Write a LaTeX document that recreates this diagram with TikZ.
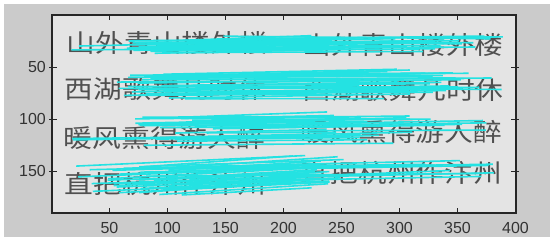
\documentclass[tikz,border=0pt]{standalone}
\usepackage{fontspec}
\setmainfont{Liberation Sans}
\newfontfamily\cjk{Noto Sans CJK SC}
\definecolor{figbg}{RGB}{203,203,203}
\definecolor{imgbg}{RGB}{228,228,228}
\definecolor{matchc}{RGB}{36,226,226}
\definecolor{inkc}{RGB}{80,80,80}
% n, xL from, xL to, yL from, yL to, xR from, xR to, vertical shift
\newcommand\mybundle[8]{%
  \foreach \k in {1,...,#1}{%
    \pgfmathsetmacro\xa{#2+rnd*(#3-#2)}%
    \pgfmathsetmacro\ya{#4+rnd*(#5-#4)}%
    \pgfmathsetmacro\xb{#6+rnd*(#7-#6)}%
    \pgfmathsetmacro\yb{\ya+#8+3*rand}%
    \draw[matchline] (\xa,\ya) -- (\xb,\yb);
  }}
\begin{document}
\begin{tikzpicture}[x=1pt,y=-1pt,
  matchline/.style={draw=matchc,line width=1.6pt},
  poem/.style={font=\cjk\fontsize{25}{25}\selectfont,text=inkc,inner sep=0pt,xscale=1.15,anchor=center},
  ticklab/.style={font=\fontsize{16}{16}\selectfont,text=black!80,inner sep=0pt},
  axisline/.style={draw=black!85,line width=1.3pt},
  tickline/.style={draw=black!85,line width=0.9pt}]
\useasboundingbox (0,0) rectangle (550,243);
\fill[white] (0,0) rectangle (550,243);
\fill[figbg] (4,4) rectangle (550,237);
\fill[imgbg] (52,15) rectangle (516,213);
% poem text, left image
\node[poem] (l1) at (167.5,43) {山外青山楼外楼};
\node[poem] (l2) at (165.5,89) {西湖歌舞几时休};
\node[poem] (l3) at (164.5,137.5) {暖风熏得游人醉};
\node[poem] (l4) at (165.5,184) {直把杭州作汴州};
% poem text, right image
\node[poem] (r1) at (403,45) {山外青山楼外楼};
\node[poem] (r2) at (403,90) {西湖歌舞几时休};
\node[poem] (r3) at (401.5,132) {暖风熏得游人醉};
\node[poem] (r4) at (401.5,172.5) {直把杭州作汴州};
% matches
\pgfmathsetseed{11}
% row 1
\mybundle{26}{125}{170}{40}{54}{290}{470}{-3}
\mybundle{6}{150}{260}{36}{44}{440}{505}{0}
\mybundle{2}{68}{80}{46}{50}{300}{480}{-3}
% row 2
\mybundle{30}{110}{200}{73}{100}{330}{470}{-3}
\mybundle{6}{120}{250}{76}{90}{460}{505}{0}
% row 3
\mybundle{28}{135}{210}{117}{146}{300}{420}{-3}
\mybundle{7}{150}{260}{120}{136}{420}{495}{-2}
\mybundle{2}{62}{75}{134}{142}{300}{420}{-6}
% row 4
\mybundle{30}{75}{200}{166}{195}{280}{360}{-8}
\mybundle{9}{120}{260}{165}{182}{420}{500}{-5}
% axes frame
\draw[axisline] (52,15) rectangle (516,213);
\foreach \u in {50,100,...,400}{
  \pgfmathsetmacro\px{51.5+1.16*\u}
  \draw[tickline] (\px,213) -- (\px,208);
  \draw[tickline] (\px,15) -- (\px,20);
  \node[ticklab] (xl\u) at (\px,228) {\u};
}
\foreach \u in {50,100,150}{
  \pgfmathsetmacro\py{15+1.04*\u}
  \draw[tickline] (49,\py) -- (57,\py);
  \draw[tickline] (511,\py) -- (519,\py);
  \node[ticklab,anchor=east] (yl\u) at (46,\py) {\u};
}
\end{tikzpicture}
\end{document}
